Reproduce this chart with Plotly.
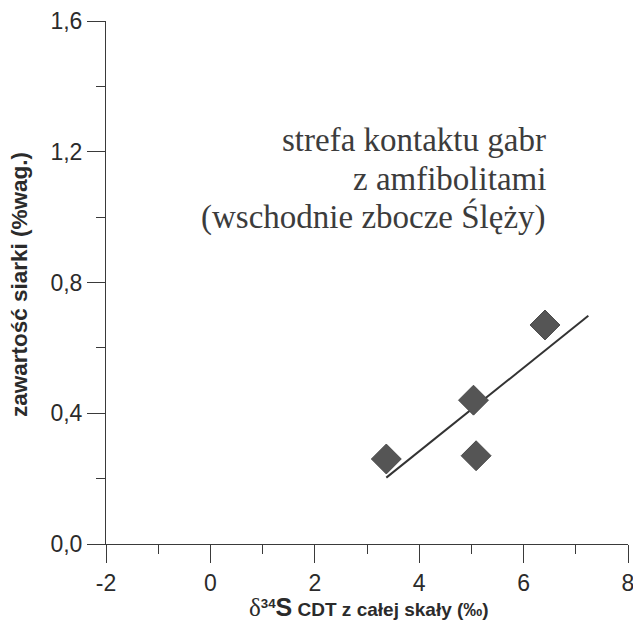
import plotly.graph_objects as go

# data
delta34S = [3.37, 5.04, 5.09, 6.41]
sulfur_wt = [0.26, 0.44, 0.27, 0.67]
trend_x = [3.37, 7.24]
trend_y = [0.203, 0.698]

x_ticks = [-2, 0, 2, 4, 6, 8]
x_tick_text = ["-2", "0", "2", "4", "6", "8"]
y_ticks = [0.0, 0.4, 0.8, 1.2, 1.6]
y_tick_text = ["0,0", "0,4", "0,8", "1,2", "1,6"]

note_lines = ["strefa kontaktu gabr", "z amfibolitami", "(wschodnie zbocze Ślęży)"]

axis_col = "#3a3a3a"
text_col = "#2b2b2b"

W, H = 633, 628
L, R, T, B = 106, 5, 21, 84
PW, PH = W - L - R, H - T - B

fig = go.Figure()
fig.add_trace(go.Scatter(x=trend_x, y=trend_y, mode="lines",
                         line=dict(color="#333333", width=2), showlegend=False,
                         hoverinfo="skip"))
fig.add_trace(go.Scatter(x=delta34S, y=sulfur_wt, mode="markers",
                         marker=dict(symbol="diamond", size=23, color="#555555",
                                     line=dict(color="#4a4a4a", width=1)),
                         showlegend=False))

common = dict(showgrid=False, zeroline=False, showline=True, linecolor=axis_col,
              linewidth=1, ticks="outside", ticklen=18, tickwidth=1, tickcolor=axis_col,
              tickfont=dict(family="Liberation Sans, Arial", size=23, color=text_col),
              automargin=False, ticklabeloverflow="allow")

fig.update_xaxes(range=[-2, 8], tickvals=x_ticks, ticktext=x_tick_text,
                 minor=dict(dtick=1, ticklen=9, tickcolor=axis_col, ticks="outside"),
                 **common)
fig.update_yaxes(range=[0, 1.6], tickvals=y_ticks, ticktext=y_tick_text,
                 minor=dict(dtick=0.2, ticklen=9, tickcolor=axis_col, ticks="outside"),
                 **common)

ann = []
for i, line in enumerate(note_lines):
    ann.append(dict(text=line, xref="paper", yref="paper", x=(548 - L) / PW,
                    y=(544 - 140 - i * 38.5) / PH, xanchor="right", yanchor="middle",
                    showarrow=False,
                    font=dict(family="Liberation Serif, Times New Roman", size=33,
                              color="#3c3c3c")))

ann.append(dict(text="<span style='font-family:Liberation Serif;font-weight:normal;font-size:25px'>δ</span>"
                     "<sup>34</sup><span style='font-size:25px'>S</span> CDT z całej skały (‰)",
                xref="paper", yref="paper", x=(369 - L) / PW, y=(544 - 607) / PH,
                xanchor="center", yanchor="middle", showarrow=False,
                font=dict(family="Liberation Sans, Arial", size=19, color=text_col,
                          weight="bold")))
ann.append(dict(text="zawartość siarki (%wag.)", xref="paper", yref="paper",
                x=(19 - L) / PW, y=(544 - 285) / PH, textangle=-90,
                xanchor="center", yanchor="middle", showarrow=False,
                font=dict(family="Liberation Sans, Arial", size=22.5, color=text_col,
                          weight="bold")))

fig.update_layout(width=W, height=H, margin=dict(l=L, r=R, t=T, b=B),
                  paper_bgcolor="white", plot_bgcolor="white",
                  annotations=ann, showlegend=False, hovermode=False)

fig.write_html("out.html", config={"displayModeBar": False, "staticPlot": True},
               post_script="document.body.style.margin='0';"
                           "document.body.style.overflow='hidden';")
